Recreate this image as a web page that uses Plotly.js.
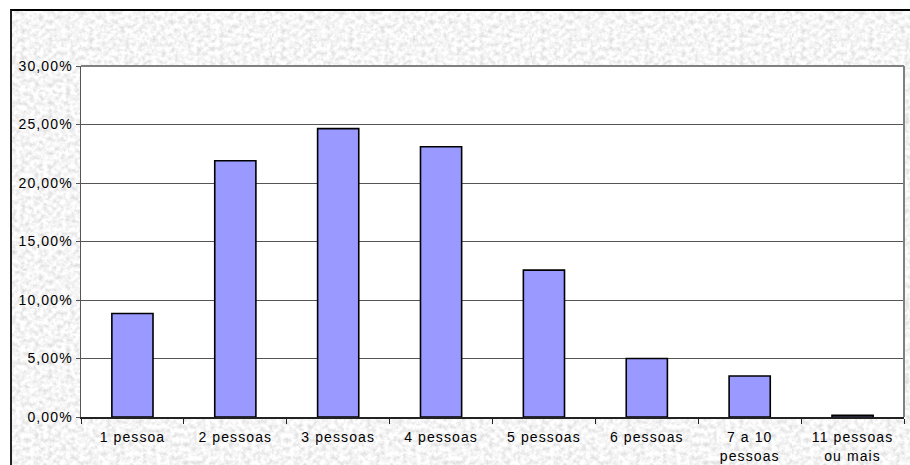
<!DOCTYPE html>
<html>
<head>
<meta charset="utf-8">
<script src="https://cdn.plot.ly/plotly-3.0.1.min.js"></script>
<style>
  html, body { margin: 0; padding: 0; background: #ffffff; }
  #wrap { position: relative; width: 910px; height: 465px; overflow: hidden; }
  /* granite-like backdrop behind the chart */
  #frame {
    position: absolute; left: 10px; top: 9px; width: 910px; height: 470px;
    border-top: 2px solid #000; border-left: 2px solid #222;
    background-color: #e8e8e8;
    background-image: url("data:image/svg+xml;utf8,<svg xmlns='http://www.w3.org/2000/svg' width='260' height='260'><filter id='n'><feTurbulence type='fractalNoise' baseFrequency='0.22' numOctaves='5' seed='11' stitchTiles='stitch'/><feColorMatrix type='matrix' values='0.55 0 0 0 0.64  0.55 0 0 0 0.64  0.55 0 0 0 0.64  0 0 0 0 1'/></filter><rect width='260' height='260' filter='url(%23n)'/></svg>");
  }
  #chart { position: absolute; left: 0; top: 0; width: 910px; height: 465px; }
  #chart .xtick text, #chart .ytick text { letter-spacing: 1.1px; }
</style>
</head>
<body>
<div id="wrap">
  <div id="frame"></div>
  <div id="chart"></div>
</div>
<script>
// household size categories and their share of households (%)
const categories = [
  '1 pessoa', '2 pessoas', '3 pessoas', '4 pessoas',
  '5 pessoas', '6 pessoas', '7 a 10<br>pessoas', '11 pessoas<br>ou mais'
];
const shares = [8.85, 21.9, 24.65, 23.1, 12.55, 5.0, 3.5, 0.15];
const yTicks = [0, 5, 10, 15, 20, 25, 30];
const yTickLabels = yTicks.map(v => v.toFixed(2).replace('.', ',') + '%');

const trace = {
  type: 'bar',
  x: categories,
  y: shares,
  marker: { color: '#9999ff', line: { color: '#000000', width: 1.6 } },
  hoverinfo: 'x+y'
};

const layout = {
  width: 910,
  height: 465,
  margin: { l: 81, r: 6, t: 66, b: 48, pad: 0 },
  paper_bgcolor: 'rgba(0,0,0,0)',
  plot_bgcolor: '#ffffff',
  bargap: 0.6,
  showlegend: false,
  font: { family: 'Liberation Sans, Arial, sans-serif', size: 14, color: '#000000' },
  xaxis: {
    type: 'category',
    showgrid: false,
    showline: true,
    linecolor: '#222222',
    linewidth: 1.5,
    ticks: 'outside',
    tickson: 'boundaries',
    ticklen: 5,
    tickwidth: 1,
    tickcolor: '#222222',
    ticklabelstandoff: 7,
    tickfont: { size: 14 },
    automargin: false
  },
  yaxis: {
    range: [0, 30],
    tickmode: 'array',
    tickvals: yTicks,
    ticktext: yTickLabels,
    showgrid: true,
    gridcolor: '#555555',
    gridwidth: 1,
    zeroline: false,
    showline: true,
    linecolor: '#555555',
    linewidth: 1.5,
    ticks: 'outside',
    ticklen: 4,
    tickcolor: '#555555',
    tickfont: { size: 14 },
    automargin: false
  },
  shapes: [
    // right and top edges of the plotting area
    { type: 'line', xref: 'paper', yref: 'paper', x0: 1, x1: 1, y0: 0, y1: 1,
      line: { color: '#808080', width: 2 } },
    { type: 'line', xref: 'paper', yref: 'paper', x0: 0, x1: 1, y0: 1, y1: 1,
      line: { color: '#808080', width: 2 } }
  ]
};

Plotly.newPlot('chart', [trace], layout, { displayModeBar: false, staticPlot: true });
</script>
</body>
</html>
